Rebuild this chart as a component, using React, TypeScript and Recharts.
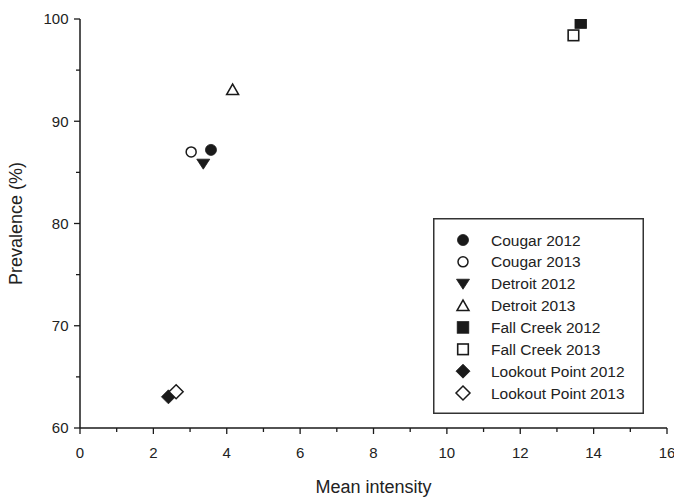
import { ScatterChart, Scatter, XAxis, YAxis, Legend, Label } from 'recharts'

const seriesNames = [
    'Cougar 2012',
    'Cougar 2013',
    'Detroit 2012',
    'Detroit 2013',
    'Fall Creek 2012',
    'Fall Creek 2013',
    'Lookout Point 2012',
    'Lookout Point 2013',
]
const markerKinds = ['circle', 'circle', 'triangleDown', 'triangleUp', 'square', 'square', 'diamond', 'diamond']
const markerFilled = [true, false, true, false, true, false, true, false]
const meanIntensity = [3.57, 3.03, 3.36, 4.16, 13.65, 13.45, 2.41, 2.62]
const prevalence = [87.2, 87.0, 85.85, 93.1, 99.65, 98.4, 63.05, 63.55]
const xTicks = [0, 1, 2, 3, 4, 5, 6, 7, 8, 9, 10, 11, 12, 13, 14, 15, 16]
const yTicks = [60, 65, 70, 75, 80, 85, 90, 95, 100]

const INK = '#1a1a1a'
const FONT = '"Liberation Sans", Arial, sans-serif'

const Marker = ({ kind, filled, cx, cy }: { kind: string; filled: boolean; cx: number; cy: number }) => {
    const fill = filled ? INK : '#fff'
    const sw = filled ? 0.8 : 1.5
    if (kind === 'circle') {
        return <circle cx={cx} cy={cy} r={filled ? 5.5 : 5} fill={fill} stroke={INK} strokeWidth={sw} />
    }
    if (kind === 'triangleDown') {
        return <polygon points={`${cx - 6.5},${cy - 4.5} ${cx + 6.5},${cy - 4.5} ${cx},${cy + 5.5}`} fill={fill} stroke={INK} strokeWidth={sw} />
    }
    if (kind === 'triangleUp') {
        return <polygon points={`${cx - 6},${cy + 5} ${cx + 6},${cy + 5} ${cx},${cy - 5.5}`} fill={fill} stroke={INK} strokeWidth={sw} />
    }
    if (kind === 'square') {
        const h = filled ? 5.8 : 5.3
        return <rect x={cx - h} y={cy - h} width={h * 2} height={h * 2} fill={fill} stroke={INK} strokeWidth={filled ? 0.8 : 1.6} />
    }
    return <polygon points={`${cx},${cy - 7} ${cx + 7},${cy} ${cx},${cy + 7} ${cx - 7},${cy}`} fill={fill} stroke={INK} strokeWidth={sw} />
}

const XTick = ({ x, y, payload }: { x: number; y: number; payload: { value: number } }) => {
    const major = payload.value % 2 === 0
    return (
        <g>
            <line x1={x} x2={x} y1={y} y2={y + (major ? 6 : 4)} stroke={INK} strokeWidth={1.3} />
            {major && (
                <text x={x} y={y + 30} textAnchor="middle" fontSize={15} fontFamily={FONT} fill="#222">
                    {payload.value}
                </text>
            )}
        </g>
    )
}

const YTick = ({ x, y, payload }: { x: number; y: number; payload: { value: number } }) => {
    const major = payload.value % 10 === 0
    return (
        <g>
            <line x1={x} x2={x - (major ? 6 : 4)} y1={y} y2={y} stroke={INK} strokeWidth={1.3} />
            {major && (
                <text x={x - 11.5} y={y} dy="0.36em" textAnchor="end" fontSize={15} fontFamily={FONT} fill="#222">
                    {payload.value}
                </text>
            )}
        </g>
    )
}

const LegendBox = ({ payload }: { payload?: Array<{ value: string }> }) => {
    const names = payload?.length ? payload.map((p) => p.value) : seriesNames
    return (
        <svg width={211} height={196} style={{ display: 'block' }}>
            <rect x={0.75} y={0.75} width={209.5} height={194.5} fill="#fff" stroke="#333" strokeWidth={1.5} />
            {names.map((name, i) => {
                const cy = 22 + i * 21.86
                return (
                    <g key={name}>
                        <Marker kind={markerKinds[i]} filled={markerFilled[i]} cx={30} cy={cy} />
                        <text x={58} y={cy} dy="0.36em" fontSize={15.5} fontFamily={FONT} fill="#222">
                            {name}
                        </text>
                    </g>
                )
            })}
        </svg>
    )
}

export default function App() {
    return (
        <div style={{ width: 674, height: 499, background: '#fff' }}>
            <style>{'body{margin:0}'}</style>
            <ScatterChart width={674} height={499} margin={{ top: 19, right: 7, bottom: 0, left: 0 }}>
                <XAxis
                    type="number"
                    dataKey="x"
                    domain={[0, 16]}
                    ticks={xTicks}
                    interval={0}
                    height={71}
                    tickSize={0}
                    tickMargin={0}
                    tickLine={false}
                    tick={XTick}
                    axisLine={{ stroke: INK, strokeWidth: 1.5 }}
                    allowDataOverflow
                >
                    <Label
                        value="Mean intensity"
                        position="insideBottom"
                        offset={6}
                        style={{ fontSize: 18, fontFamily: FONT, fill: '#222' }}
                    />
                </XAxis>
                <YAxis
                    type="number"
                    dataKey="y"
                    domain={[60, 100]}
                    ticks={yTicks}
                    interval={0}
                    width={80}
                    tickSize={0}
                    tickMargin={0}
                    tickLine={false}
                    tick={YTick}
                    axisLine={{ stroke: INK, strokeWidth: 1.5 }}
                    allowDataOverflow
                >
                    <Label
                        value="Prevalence (%)"
                        angle={-90}
                        position="insideLeft"
                        offset={16}
                        style={{ fontSize: 18, fontFamily: FONT, fill: '#222', textAnchor: 'middle' }}
                    />
                </YAxis>
                {seriesNames.map((name, i) => (
                    <Scatter
                        key={name}
                        name={name}
                        data={[{ x: meanIntensity[i], y: prevalence[i] }]}
                        isAnimationActive={false}
                        shape={(p: any) => <Marker kind={markerKinds[i]} filled={markerFilled[i]} cx={p.cx} cy={p.cy} />}
                    />
                ))}
                <Legend
                    layout="vertical"
                    align="center"
                    verticalAlign="middle"
                    content={LegendBox}
                    wrapperStyle={{ position: 'absolute', left: 433, top: 218, width: 211, height: 196 }}
                />
            </ScatterChart>
        </div>
    )
}
